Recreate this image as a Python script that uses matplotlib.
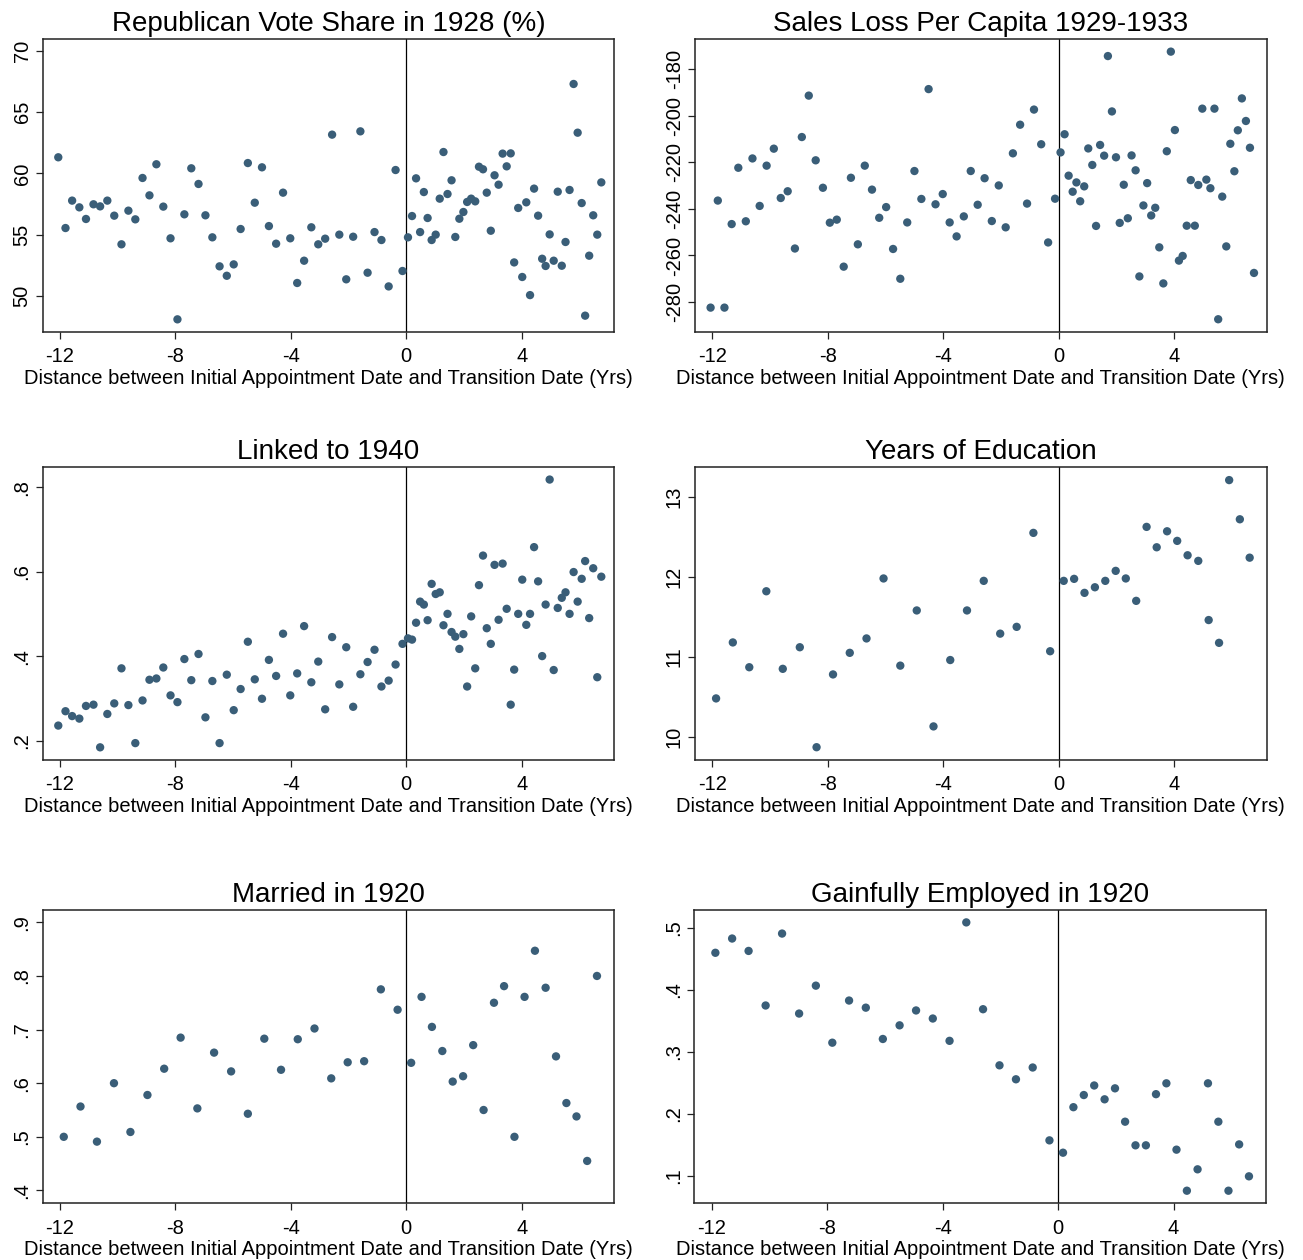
import matplotlib
matplotlib.use("Agg")
import matplotlib.pyplot as plt

plt.rcParams['font.family'] = ['Liberation Sans', 'DejaVu Sans']
plt.rcParams['axes.unicode_minus'] = False

# ---- data ----
x_fine = [-12.06, -11.81, -11.58, -11.33, -11.10, -10.84, -10.61, -10.36, -10.12, -9.87,
          -9.63, -9.39, -9.14, -8.90, -8.66, -8.42, -8.17, -7.93, -7.69, -7.45,
          -7.20, -6.96, -6.72, -6.47, -6.22, -5.98, -5.74, -5.49, -5.25, -5.00,
          -4.76, -4.51, -4.27, -4.02, -3.78, -3.54, -3.29, -3.05, -2.81, -2.57,
          -2.32, -2.08, -1.84, -1.59, -1.34, -1.10, -0.86, -0.61, -0.37, -0.13,
          0.06, 0.20, 0.34, 0.48, 0.61, 0.74, 0.88, 1.02, 1.16, 1.29,
          1.43, 1.57, 1.70, 1.84, 1.98, 2.11, 2.25, 2.39, 2.52, 2.66,
          2.79, 2.93, 3.06, 3.20, 3.34, 3.48, 3.62, 3.74, 3.88, 4.02,
          4.16, 4.29, 4.43, 4.57, 4.71, 4.83, 4.97, 5.11, 5.25, 5.39,
          5.52, 5.66, 5.80, 5.94, 6.08, 6.20, 6.34, 6.48, 6.62, 6.76]

x_coarse = [-11.87, -11.29, -10.72, -10.13, -9.56, -8.97, -8.39, -7.82, -7.24, -6.66,
            -6.07, -5.49, -4.92, -4.34, -3.76, -3.18, -2.60, -2.03, -1.46, -0.88, -0.30,
            0.17, 0.53, 0.89, 1.25, 1.61, 1.97, 2.32, 2.68, 3.04, 3.39,
            3.75, 4.10, 4.46, 4.83, 5.19, 5.55, 5.90, 6.27, 6.61]

rep_vote_1928 = [61.31, 55.53, 57.77, 57.22, 56.27, 57.47, 57.30, 57.77, 56.54, 54.20,
                 56.95, 56.24, 59.62, 58.20, 60.74, 57.28, 54.69, 48.07, 56.65, 60.41,
                 59.13, 56.57, 54.77, 52.40, 51.63, 52.56, 55.45, 60.84, 57.60, 60.49,
                 55.69, 54.25, 58.42, 54.69, 51.04, 52.86, 55.59, 54.20, 54.66, 63.16,
                 54.99, 51.34, 54.82, 63.43, 51.88, 55.20, 54.55, 50.76, 60.27, 52.02,
                 54.77, 56.51, 59.59, 55.20, 58.47, 56.35, 54.55, 54.99, 57.93, 61.74,
                 58.31, 59.43, 54.80, 56.29, 56.84, 57.66, 57.93, 57.71, 60.54, 60.33,
                 58.42, 55.31, 59.84, 59.07, 61.61, 60.57, 61.63, 52.72, 57.17, 51.53,
                 57.63, 50.05, 58.75, 56.54, 53.02, 52.43, 55.01, 52.86, 58.50, 52.45,
                 54.39, 58.64, 67.30, 63.32, 57.57, 48.37, 53.27, 56.57, 54.99, 59.26]

sales_loss = [-282.4, -236.4, -282.4, -246.5, -222.3, -245.3, -218.3, -238.7, -221.4, -214.1,
              -235.3, -232.4, -257.0, -209.1, -191.3, -219.1, -230.9, -245.9, -244.6, -264.8,
              -226.6, -255.2, -221.4, -231.7, -243.8, -239.2, -257.2, -270.0, -245.8, -223.7,
              -235.7, -188.5, -238.0, -233.6, -245.8, -251.8, -243.2, -223.7, -238.2, -226.8,
              -245.2, -229.9, -247.9, -216.1, -203.8, -237.7, -197.3, -212.2, -254.4, -235.6,
              -215.7, -207.9, -225.7, -232.6, -228.6, -236.7, -230.3, -214.0, -221.1, -247.3,
              -212.5, -217.1, -174.3, -198.1, -217.8, -246.0, -229.6, -244.0, -217.0, -223.4,
              -269.0, -238.5, -228.9, -242.8, -239.5, -256.5, -272.0, -215.2, -172.4, -206.1,
              -262.2, -260.2, -247.2, -227.6, -247.2, -229.7, -196.9, -227.4, -231.1, -196.9,
              -287.4, -234.7, -256.1, -212.0, -223.8, -206.2, -192.5, -202.2, -213.7, -267.5]

linked_1940 = [0.2355, 0.2695, 0.258, 0.252, 0.282, 0.285, 0.184, 0.263, 0.288, 0.371,
               0.284, 0.194, 0.295, 0.344, 0.347, 0.373, 0.307, 0.291, 0.393, 0.343,
               0.405, 0.255, 0.341, 0.194, 0.356, 0.272, 0.322, 0.434, 0.345, 0.299,
               0.391, 0.353, 0.453, 0.307, 0.359, 0.471, 0.338, 0.387, 0.274, 0.445,
               0.333, 0.421, 0.280, 0.357, 0.386, 0.415, 0.328, 0.342, 0.380, 0.429,
               0.442, 0.439, 0.479, 0.529, 0.522, 0.485, 0.571, 0.547, 0.551, 0.473,
               0.500, 0.457, 0.446, 0.417, 0.452, 0.328, 0.494, 0.371, 0.568, 0.638,
               0.466, 0.429, 0.616, 0.486, 0.619, 0.512, 0.285, 0.368, 0.500, 0.581,
               0.474, 0.500, 0.658, 0.577, 0.400, 0.522, 0.818, 0.367, 0.514, 0.538,
               0.551, 0.500, 0.599, 0.529, 0.583, 0.625, 0.490, 0.608, 0.350, 0.588]

educ_years = [10.48, 11.18, 10.87, 11.82, 10.85, 11.12, 9.87, 10.78, 11.05, 11.23,
              11.98, 10.89, 11.58, 10.13, 10.96, 11.58, 11.95, 11.29, 11.375, 12.55, 11.07,
              11.95, 11.975, 11.80, 11.87, 11.95, 12.075, 11.98, 11.70, 12.625, 12.37,
              12.57, 12.45, 12.27, 12.20, 11.46, 11.175, 13.21, 12.72, 12.24]

married_1920 = [0.500, 0.5565, 0.491, 0.600, 0.509, 0.578, 0.627, 0.685, 0.553, 0.657,
                0.622, 0.543, 0.683, 0.625, 0.682, 0.702, 0.609, 0.639, 0.641, 0.775, 0.737,
                0.638, 0.761, 0.705, 0.660, 0.603, 0.613, 0.671, 0.550, 0.750, 0.781,
                0.500, 0.761, 0.847, 0.778, 0.650, 0.563, 0.538, 0.455, 0.800]

employed_1920 = [0.460, 0.483, 0.463, 0.375, 0.491, 0.362, 0.407, 0.315, 0.383, 0.3715,
                 0.321, 0.343, 0.367, 0.354, 0.318, 0.509, 0.369, 0.2785, 0.256, 0.275, 0.1575,
                 0.1376, 0.211, 0.2306, 0.246, 0.2237, 0.2414, 0.1876, 0.1495, 0.1495, 0.232,
                 0.2495, 0.1425, 0.0763, 0.1108, 0.2495, 0.1876, 0.0763, 0.151, 0.0995]

titles = ["Republican Vote Share in 1928 (%)", "Sales Loss Per Capita 1929-1933",
          "Linked to 1940", "Years of Education",
          "Married in 1920", "Gainfully Employed in 1920"]
xlabel = "Distance between Initial Appointment Date and Transition Date (Yrs)"
x_ticks = [-12, -8, -4, 0, 4]
x_ticklabels = ["-12", "-8", "-4", "0", "4"]

y_ticks = [[50, 55, 60, 65, 70],
           [-280, -260, -240, -220, -200, -180],
           [0.2, 0.4, 0.6, 0.8],
           [10, 11, 12, 13],
           [0.4, 0.5, 0.6, 0.7, 0.8, 0.9],
           [0.1, 0.2, 0.3, 0.4, 0.5]]
y_ticklabels = [["50", "55", "60", "65", "70"],
                ["-280", "-260", "-240", "-220", "-200", "-180"],
                [".2", ".4", ".6", ".8"],
                ["10", "11", "12", "13"],
                [".4", ".5", ".6", ".7", ".8", ".9"],
                [".1", ".2", ".3", ".4", ".5"]]
y_lims = [(47.06, 70.95), (-292.75, -167.1), (0.154, 0.847),
          (9.71, 13.37), (0.376, 0.923), (0.056, 0.529)]

series = [(x_fine, rep_vote_1928), (x_fine, sales_loss), (x_fine, linked_1940),
          (x_coarse, educ_years), (x_coarse, married_1920), (x_coarse, employed_1920)]

# ---- layout ----
W, H = 1303, 1260
fig = plt.figure(figsize=(W / 100, H / 100), dpi=100)
fig.patch.set_facecolor("white")

def pos(l, r, t, b):
    return [l / W, 1 - b / H, (r - l) / W, (b - t) / H]

boxes = [pos(42.7, 614, 39.3, 331.7), pos(695, 1266.7, 39.3, 331.7),
         pos(42.7, 614, 467.3, 760), pos(695, 1266.7, 467.3, 760),
         pos(42.7, 614, 910, 1203.3), pos(694.3, 1266, 910, 1203.3)]

marker_color = "#3a5e78"

for i in range(6):
    ax = fig.add_axes(boxes[i])
    xs, ys = series[i]
    ax.scatter(xs, ys, s=36, color=marker_color, edgecolors="none", zorder=3)
    ax.axvline(0, color="black", linewidth=0.9, zorder=2)
    ax.set_xlim(-12.6, 7.2)
    ax.set_ylim(*y_lims[i])
    ax.set_xticks(x_ticks)
    ax.set_xticklabels(x_ticklabels)
    ax.set_yticks(y_ticks[i])
    ax.set_yticklabels(y_ticklabels[i], rotation=90, va="center")
    ax.tick_params(axis="both", direction="out", length=5, width=0.9,
                   labelsize=14.5, color="#222222")
    ax.tick_params(axis="x", pad=6)
    ax.tick_params(axis="y", pad=3)
    ax.set_title(titles[i], fontsize=20, pad=6)
    ax.set_xlabel(xlabel, fontsize=14.5, labelpad=2)
    for side, sp in ax.spines.items():
        sp.set_color("#222222")
        sp.set_linewidth(1.1)

fig.savefig("out.png", dpi=100, facecolor="white")
